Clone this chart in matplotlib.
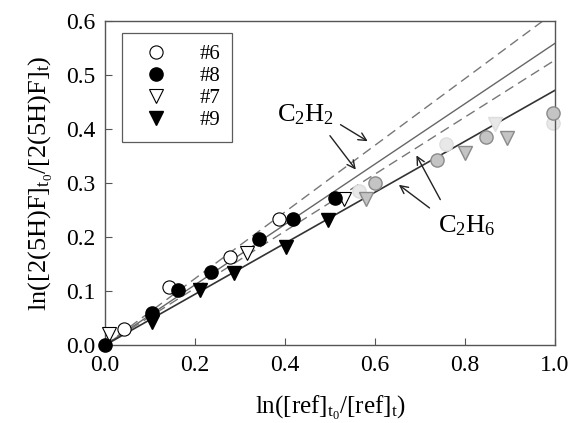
import matplotlib
matplotlib.use("Agg")
import matplotlib.pyplot as plt
import numpy as np

plt.rcParams['font.family'] = ['Liberation Serif', 'DejaVu Serif']
plt.rcParams['mathtext.fontset'] = 'custom'
plt.rcParams['mathtext.rm'] = 'Liberation Serif'
plt.rcParams['mathtext.it'] = 'Liberation Serif:italic'

# Data
s6_x = [0.041, 0.142, 0.278, 0.387]
s6_y = [0.030, 0.108, 0.164, 0.234]
s8_x = [0.0, 0.104, 0.163, 0.235, 0.343, 0.417, 0.511]
s8_y = [0.0, 0.059, 0.103, 0.135, 0.196, 0.233, 0.273]
s7_x = [0.009, 0.315, 0.532]
s7_y = [0.020, 0.170, 0.271]
s9_x = [0.104, 0.211, 0.287, 0.402, 0.495]
s9_y = [0.043, 0.102, 0.133, 0.182, 0.231]
gray_c_x = [0.600, 0.737, 0.847, 0.996]
gray_c_y = [0.300, 0.343, 0.386, 0.429]
light_c_x = [0.565, 0.758, 0.996]
light_c_y = [0.286, 0.372, 0.412]
gray_t_x = [0.581, 0.800, 0.894]
gray_t_y = [0.271, 0.355, 0.383]
light_t_x = [0.867]
light_t_y = [0.410]

slope_c2h2 = 0.559
slope_c2h2_hi = 0.617
slope_c2h2_lo = 0.528
slope_c2h6 = 0.472

xticks = [0.0, 0.2, 0.4, 0.6, 0.8, 1.0]
yticks = [0.0, 0.1, 0.2, 0.3, 0.4, 0.5, 0.6]

fig = plt.figure(figsize=(5.71, 4.23), dpi=100)
ax = fig.add_axes([0.184, 0.184, 0.788, 0.766])

xx = np.array([0.0, 1.0])
ax.plot(xx, slope_c2h2_hi * xx, ls=(0, (7, 4)), color='#777777', lw=1.0, zorder=1)
ax.plot(xx, slope_c2h2 * xx, ls='-', color='#666666', lw=1.0, zorder=1)
ax.plot(xx, slope_c2h2_lo * xx, ls=(0, (7, 4)), color='#777777', lw=1.0, zorder=1)
ax.plot(xx, slope_c2h6 * xx, ls='-', color='#333333', lw=1.2, zorder=1)

ms = 9.5
ax.plot(light_c_x, light_c_y, 'o', ms=ms, mfc='#e8e8e8', mec='#dddddd', mew=1, ls='none', zorder=2, clip_on=False)
ax.plot(light_t_x, light_t_y, 'v', ms=ms, mfc='#e8e8e8', mec='#dddddd', mew=1, ls='none', zorder=2, clip_on=False)
ax.plot(gray_c_x, gray_c_y, 'o', ms=ms, mfc='#c4c4c4', mec='#8a8a8a', mew=1, ls='none', zorder=3, clip_on=False)
ax.plot(gray_t_x, gray_t_y, 'v', ms=ms, mfc='#c4c4c4', mec='#8a8a8a', mew=1, ls='none', zorder=3, clip_on=False)

ax.plot(s6_x, s6_y, 'o', ms=ms, mfc='white', mec='black', mew=0.8, ls='none', label='#6', zorder=4, clip_on=False)
ax.plot(s8_x, s8_y, 'o', ms=ms, mfc='black', mec='black', ls='none', label='#8', zorder=5, clip_on=False)
ax.plot(s7_x, s7_y, 'v', ms=ms, mfc='white', mec='black', mew=0.8, ls='none', label='#7', zorder=4, clip_on=False)
ax.plot(s9_x, s9_y, 'v', ms=ms, mfc='black', mec='black', ls='none', label='#9', zorder=5, clip_on=False)

ax.set_xlim(0, 1.0)
ax.set_ylim(0, 0.6)
ax.set_xticks(xticks)
ax.set_yticks(yticks)
ax.set_xticklabels([f'{v:.1f}' for v in xticks])
ax.set_yticklabels([f'{v:.1f}' for v in yticks])
ax.tick_params(direction='in', length=5, width=0.8, labelsize=17, color='#555555', pad=7)
for sp in ax.spines.values():
    sp.set_color('#555555')
    sp.set_linewidth(1.0)

ax.set_xlabel(r'ln([ref]$_{\mathrm{t_0}}$/[ref]$_{\mathrm{t}}$)', fontsize=18, labelpad=13)
ax.set_ylabel(r'ln([2(5H)F]$_{\mathrm{t_0}}$/[2(5H)F]$_{\mathrm{t}}$)', fontsize=19, labelpad=8)

leg = ax.legend(loc='upper left', bbox_to_anchor=(0.037, 0.963), fontsize=15, frameon=True,
                fancybox=False, edgecolor='#333333', borderpad=0.55, handletextpad=1.0,
                labelspacing=0.12, handlelength=2.2, borderaxespad=0)
leg.get_frame().set_linewidth(0.9)

ax.text(0.382, 0.426, r'C$_2$H$_2$', fontsize=19, ha='left', va='center')
ax.text(0.740, 0.221, r'C$_2$H$_6$', fontsize=19, ha='left', va='center')

arrow_kw = dict(arrowstyle='->', color='#222222', lw=1.0, mutation_scale=14)
ax.annotate('', xy=(0.589, 0.375), xytext=(0.518, 0.411), arrowprops=arrow_kw)
ax.annotate('', xy=(0.561, 0.321), xytext=(0.496, 0.392), arrowprops=arrow_kw)
ax.annotate('', xy=(0.648, 0.300), xytext=(0.726, 0.251), arrowprops=arrow_kw)
ax.annotate('', xy=(0.689, 0.356), xytext=(0.748, 0.265), arrowprops=arrow_kw)

fig.savefig('out.png', dpi=100)
